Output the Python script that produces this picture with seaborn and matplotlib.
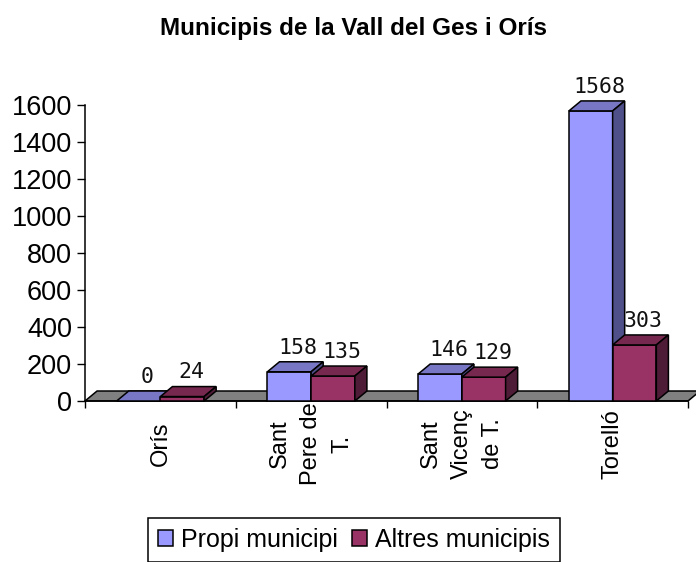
import matplotlib
matplotlib.use("Agg")
import matplotlib.pyplot as plt
from matplotlib.patches import Polygon, Patch
import seaborn as sns
import pandas as pd

municipis = ["Orís", "Sant\nPere de\nT.", "Sant\nVicenç\nde T.", "Torelló"]
series = ["Propi municipi", "Altres municipis"]
propi = [0, 158, 146, 1568]
altres = [24, 135, 129, 303]
y_ticks = [0, 200, 400, 600, 800, 1000, 1200, 1400, 1600]

front = ["#9999FF", "#993366"]
top = ["#7777C6", "#77284F"]
side = ["#4F4F8A", "#4E1C36"]
floor_col = "#808080"

# depth of the fake 3d (in data units)
DX = 0.08
DY = 54

sns.set_theme(style="white")
plt.rcParams["font.family"] = ["Liberation Sans", "DejaVu Sans"]
plt.rcParams["text.color"] = "black"
plt.rcParams["xtick.color"] = "black"
plt.rcParams["ytick.color"] = "black"

df = pd.DataFrame({
    "municipi": municipis * 2,
    "valor": propi + altres,
    "origen": [series[0]] * len(propi) + [series[1]] * len(altres),
})

fig = plt.figure(figsize=(6.96, 5.62), dpi=100)
ax = fig.add_axes([85 / 696, 161 / 562, 603 / 696, 296 / 562])

sns.barplot(data=df, x="municipi", y="valor", hue="origen", order=municipis,
            hue_order=series, palette=front, width=0.58, saturation=1,
            edgecolor="black", linewidth=1.1, errorbar=None, legend=False, ax=ax)

ax.set_xlim(-0.5, len(municipis) - 0.5)
ax.set_ylim(0, 1600)

# floor
x0, x1 = ax.get_xlim()
ax.add_patch(Polygon([(x0, 0), (x1, 0), (x1 + DX, DY), (x0 + DX, DY)],
                     closed=True, facecolor=floor_col, edgecolor="black",
                     linewidth=1.1, zorder=2, clip_on=False))

for j, cont in enumerate(ax.containers):
    for i, bar in enumerate(cont):
        z = 3 + i * 2 + j
        bx, w, h = bar.get_x(), bar.get_width(), bar.get_height()
        bar.set_zorder(z)
        bar.set_clip_on(False)
        ax.add_patch(Polygon([(bx, h), (bx + w, h), (bx + w + DX, h + DY), (bx + DX, h + DY)],
                             closed=True, facecolor=top[j], edgecolor="black",
                             linewidth=1.1, zorder=z, clip_on=False))
        ax.add_patch(Polygon([(bx + w, 0), (bx + w + DX, DY), (bx + w + DX, h + DY), (bx + w, h)],
                             closed=True, facecolor=side[j], edgecolor="black",
                             linewidth=1.1, zorder=z, clip_on=False))
        ax.annotate(f"{h:.0f}", (bx + w / 2 + DX / 2 + 0.02, h + DY),
                    xytext=(0, 3), textcoords="offset points", ha="center",
                    va="bottom", fontsize=15.5, family="DejaVu Sans Mono",
                    color="#111111", zorder=20, annotation_clip=False)

for s in ["top", "right"]:
    ax.spines[s].set_visible(False)
for s in ["left", "bottom"]:
    ax.spines[s].set_color("black")
    ax.spines[s].set_linewidth(1.1)
    ax.spines[s].set_zorder(2.5)

ax.set_xlabel("")
ax.set_ylabel("")
ax.set_yticks(y_ticks)
ax.set_yticklabels([str(t) for t in y_ticks], fontsize=19.5, color="black")
ax.tick_params(axis="y", length=5.8, width=1, pad=3.6, direction="out", left=True, color="black")

ax.set_xticks(range(len(municipis)))
ax.set_xticklabels(municipis, rotation=90, fontsize=17, va="center", ha="center",
                   linespacing=1.55, multialignment="center", color="black")
ax.tick_params(axis="x", which="major", length=0, pad=31)
ax.set_xticks([k - 0.5 for k in range(len(municipis) + 1)], minor=True)
ax.tick_params(axis="x", which="minor", length=5, width=1, direction="out", bottom=True, color="black")

fig.text(354 / 696, 1 - 35 / 562, "Municipis de la Vall del Ges i Orís",
         ha="center", va="baseline", fontsize=17.5, fontweight="bold", color="black")

handles = [Patch(facecolor=front[k], edgecolor="black", linewidth=1.1) for k in range(2)]
leg = fig.legend(handles, series, loc="upper left", bbox_to_anchor=(148 / 696, 1 - 518 / 562),
                 ncol=2, fontsize=18, frameon=True, fancybox=False, edgecolor="black",
                 framealpha=1, handlelength=0.6, handleheight=0.6, handletextpad=0.33,
                 columnspacing=0.55, borderpad=0.4, borderaxespad=0)
leg.get_frame().set_linewidth(1.1)
for t in leg.get_texts():
    t.set_color("black")

fig.savefig("out.png", dpi=100)
